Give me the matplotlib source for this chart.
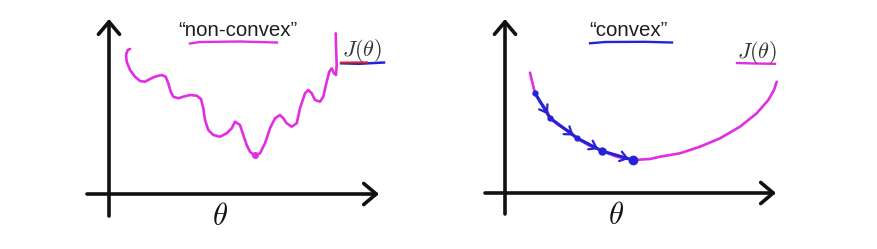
import matplotlib
matplotlib.use("Agg")
import matplotlib.pyplot as plt

plt.rcParams['mathtext.fontset'] = 'cm'
plt.rcParams['font.family'] = ['Liberation Sans', 'DejaVu Sans']

# non-convex cost curve (theta, J)
nc_theta = [2.1, 1.87, 1.7, 1.77, 2.1, 2.6, 3.1, 3.6, 4.1, 4.6, 5.27, 5.67, 5.93, 6.17,
            6.43, 6.93, 7.43, 8.1, 8.77, 9.2, 9.43, 9.6, 9.93, 10.43, 11.1, 11.77, 12.27,
            12.6, 13.1, 13.43, 13.77, 14.1, 14.6, 15.1, 15.6, 16.1, 16.6, 17.1, 17.43,
            17.77, 18.27, 18.77, 19.1, 19.6, 19.93, 20.27, 20.6, 21.1, 21.43, 21.77,
            22.03, 22.27, 22.5, 22.7, 22.77, 22.7, 22.67]
nc_J = [14.5, 14.4, 13.9, 13.23, 12.4, 11.73, 11.3, 11.23, 11.5, 11.73, 11.9, 11.73, 11.07,
        10.23, 9.73, 9.57, 9.73, 9.9, 9.83, 9.5, 8.57, 7.4, 6.4, 5.9, 5.73, 6.07, 6.57,
        7.23, 6.9, 5.9, 4.9, 4.23, 3.83, 4.07, 5.07, 6.57, 7.57, 7.9, 7.57, 7.07, 6.73,
        7.07, 8.57, 10.07, 10.4, 10.07, 9.4, 9.23, 9.73, 11.23, 12.23, 12.57, 12.07,
        11.9, 12.9, 14.9, 16.07]
nc_min = (14.6, 3.9)

# convex cost curve
cv_theta = [2.5, 3.0, 3.5, 4.17, 4.5, 5.33, 6.5, 7.17, 8.33, 9.67, 11.17, 12.83, 14.5,
            15.5, 17.5, 19.5, 21.5, 23.5, 25.17, 26.33, 26.9, 27.17]
cv_J = [12.03, 9.97, 9.13, 8.3, 7.47, 6.8, 6.13, 5.47, 4.8, 4.23, 3.63, 3.3, 3.4,
        3.63, 3.97, 4.63, 5.47, 6.63, 7.97, 9.3, 10.3, 11.13]

# gradient descent steps on the convex curve
gd_theta = [3.0, 4.5, 7.2, 9.7, 12.8]
gd_J = [10.0, 7.5, 5.5, 4.2, 3.3]

MAGENTA = '#e22ee2'
BLUE = '#2424d6'
INK = '#111111'

W, H = 877, 249
fig = plt.figure(figsize=(W / 100, H / 100), dpi=100)
fig.patch.set_facecolor('white')

ax1 = fig.add_axes([80 / W, 0, 320 / W, 1])
ax2 = fig.add_axes([475 / W, 0, 320 / W, 1])
ax1.set_xlim(-2.9, 29.1)
ax1.set_ylim(-5.5, 19.4)
ax2.set_xlim(-3.0, 29.0)
ax2.set_ylim(-5.6, 19.3)

arrow = dict(arrowstyle='->, head_length=0.45, head_width=0.38', lw=2.6, color=INK,
             shrinkA=0, shrinkB=0, mutation_scale=20)
for ax, xa, ya in [(ax1, (-2.2, 27.0), (-2.2, 17.5)), (ax2, (-2.0, 27.1), (-2.1, 17.4))]:
    ax.axis('off')
    ax.annotate('', xy=(xa[1], 0), xytext=(xa[0], 0), arrowprops=arrow)
    ax.annotate('', xy=(0, ya[1]), xytext=(0, ya[0]), arrowprops=arrow)
    ax.text(11.1, -2.3, r'$\theta$', fontsize=22, color=INK, ha='center', va='center')

# left: non-convex
ax1.plot(nc_theta, nc_J, color=MAGENTA, lw=1.9, solid_capstyle='round',
         solid_joinstyle='round')
ax1.plot(*nc_min, 'o', color=MAGENTA, ms=4)
ax1.text(12.9, 16.3, '\u201cnon-convex\u201d', fontsize=14.8, color='#1e1e1e',
         ha='center', va='center')
ax1.plot([8.1, 9.1, 13.1, 16.8], [15.05, 15.2, 15.25, 15.15], color=MAGENTA, lw=1.7)
ax1.text(25.3, 14.3, r'$J(\theta)$', fontsize=16, color='#333333', ha='center', va='center')
ax1.plot([23.2, 25.0, 27.5], [13.07, 13.02, 13.15], color=BLUE, lw=1.8)
ax1.plot([23.2, 25.8], [13.15, 13.17], color='#e02424', lw=1.4)

# right: convex
ax2.plot(cv_theta, cv_J, color=MAGENTA, lw=1.9, solid_capstyle='round',
         solid_joinstyle='round')
ax2.plot(gd_theta, gd_J, color=BLUE, lw=2.2)
for i in range(len(gd_theta) - 1):
    ax2.annotate('', xy=(gd_theta[i + 1], gd_J[i + 1]), xytext=(gd_theta[i], gd_J[i]),
                 arrowprops=dict(arrowstyle='->, head_length=0.5, head_width=0.35',
                                 color=BLUE, lw=1.6, shrinkA=0, shrinkB=3,
                                 mutation_scale=10))
ax2.plot(gd_theta, gd_J, 'o', color=BLUE, ms=3.5)
ax2.plot(gd_theta[-1], gd_J[-1], 'o', color=BLUE, ms=6)
ax2.plot(gd_theta[-2], gd_J[-2], 'o', color=BLUE, ms=5)
ax2.text(12.35, 16.3, '\u201cconvex\u201d', fontsize=14.8, color='#1e1e1e',
         ha='center', va='center')
ax2.plot([8.5, 10.0, 14.0, 16.7], [14.97, 15.1, 15.12, 15.05], color=BLUE, lw=1.7)
ax2.text(25.2, 14.1, r'$J(\theta)$', fontsize=16, color='#333333', ha='center', va='center')
ax2.plot([23.2, 25.0, 27.0], [13.0, 12.95, 12.92], color=MAGENTA, lw=1.7)

fig.savefig('out.png', dpi=100, facecolor='white')
